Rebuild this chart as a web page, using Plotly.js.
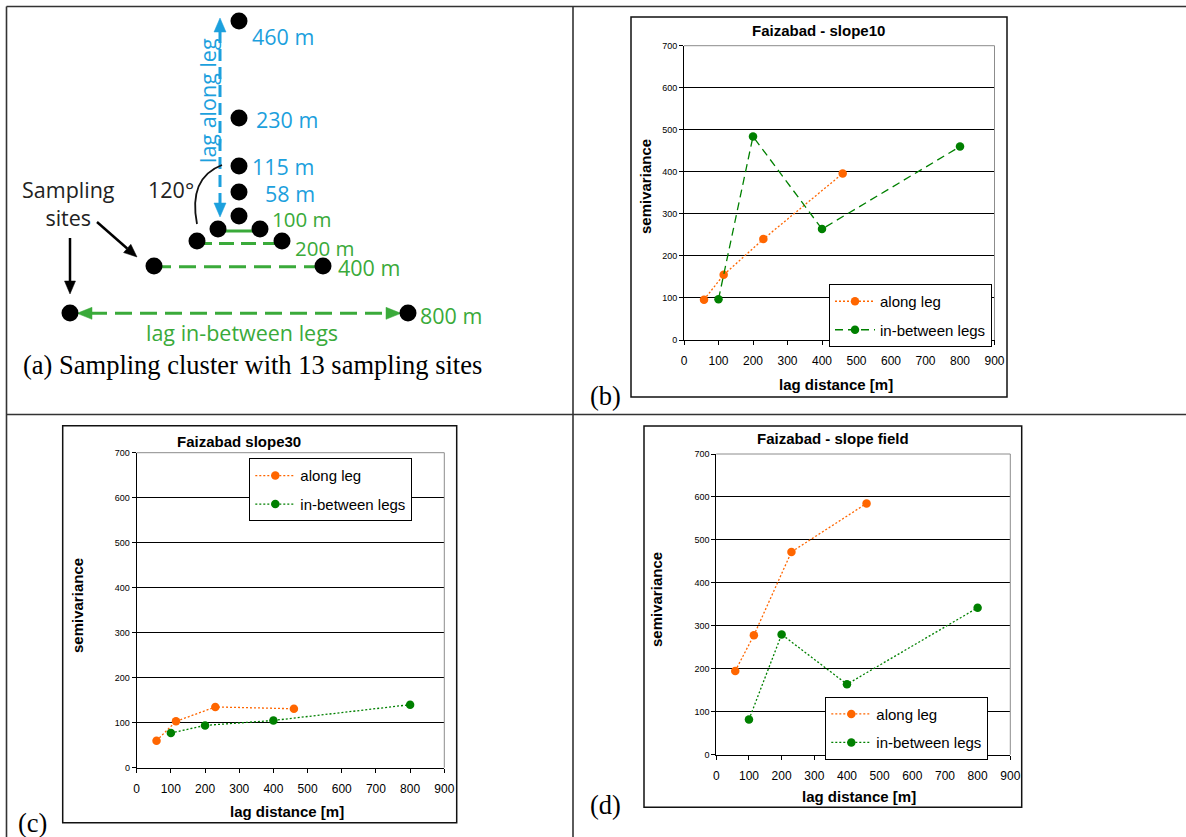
<!DOCTYPE html>
<html>
<head>
<meta charset="utf-8">
<script src="https://cdn.plot.ly/plotly-3.0.1.min.js"></script>
<style>html,body{margin:0;padding:0;background:#fff;}#chart{width:1186px;height:837px;}</style>
</head>
<body>
<div id="chart"></div>
<script>
// ---------- data ----------
const alongLag = [58, 115, 230, 460];
const betweenLag = [100, 200, 400, 800];

const slope10Along = [96, 155, 240, 396];
const slope10Between = [97, 484, 264, 460];

const slope30Along = [60, 103, 135, 131];
const slope30Between = [77, 94, 105, 140];

const fieldAlong = [195, 278, 472, 585];
const fieldBetween = [82, 280, 164, 342];

const seriesNames = ["along leg", "in-between legs"];
const chartTitles = ["Faizabad - slope10", "Faizabad slope30", "Faizabad - slope field"];
const xTitle = "lag distance [m]";
const yTitle = "semivariance";
const panelLabels = ["(a) Sampling cluster with 13 sampling sites", "(b)", "(c)", "(d)"];

// schematic of the sampling cluster (diagram units)
const siteX = [239, 239, 239, 239, 239, 218, 260, 197, 282, 154, 323, 70, 408];
const siteY = [21, 118, 166, 192, 216, 229, 229, 241, 241, 266, 266, 313, 313];
const alongLabels = ["460 m", "230 m", "115 m", "58 m"];
const betweenLabels = ["100 m", "200 m", "400 m", "800 m"];

// ---------- helpers ----------
const W = 1186, H = 837;
const px = x => x / W;
const py = y => 1 - y / H;

const ORANGE = "#FF6600", GREEN = "#008000";
const BLUE_D = "#1CA0DD", GREEN_D = "#3AAA3A";
const SANS = "Liberation Sans, Arial, sans-serif";
const SERIF = "Liberation Serif, Times New Roman, serif";
const DIAG = "Open Sans, sans-serif";

function xAxis(dom, anchor) {
  return {domain: dom, anchor: anchor, range: [0, 900], tick0: 0, dtick: 100, ticks: "outside", ticklen: 4,
    tickcolor: "#000", showline: true, linecolor: "#000", linewidth: 1, showgrid: false, zeroline: false,
    tickfont: {family: SANS, size: 12, color: "#000"}, ticklabelstandoff: 6, fixedrange: true};
}
function yAxis(dom, anchor) {
  return {domain: dom, anchor: anchor, range: [0, 700], tick0: 0, dtick: 100, ticks: "outside", ticklen: 4,
    tickcolor: "#000", showline: true, linecolor: "#000", linewidth: 1, showgrid: true, gridcolor: "#000",
    gridwidth: 1, zeroline: false, tickfont: {family: SANS, size: 9, color: "#000"}, fixedrange: true};
}
function legendBox(x, y, extra) {
  return Object.assign({x: px(x), y: py(y), xanchor: "left", yanchor: "top", bgcolor: "#fff", bordercolor: "#000",
    borderwidth: 1, font: {family: SANS, size: 15, color: "#000"}, itemwidth: 40, tracegroupgap: 6,
    traceorder: "grouped"}, extra || {});
}
function series(x, y, name, color, dash, xa, ya, lg) {
  return {type: "scatter", mode: "lines+markers", x: x, y: y, name: name, xaxis: xa, yaxis: ya,
    legend: lg, legendgroup: lg + name, line: {color: color, width: 1.3, dash: dash},
    marker: {color: color, size: 8.5}, hoverinfo: "skip"};
}

const traces = [
  series(alongLag, slope10Along, seriesNames[0], ORANGE, "2px,2px", "x", "y", "legend"),
  series(betweenLag, slope10Between, seriesNames[1], GREEN, "8px,5px", "x", "y", "legend"),
  series(alongLag, slope30Along, seriesNames[0], ORANGE, "2px,2px", "x2", "y2", "legend2"),
  series(betweenLag, slope30Between, seriesNames[1], GREEN, "2px,2px", "x2", "y2", "legend2"),
  series(alongLag, fieldAlong, seriesNames[0], ORANGE, "2px,2px", "x3", "y3", "legend3"),
  series(betweenLag, fieldBetween, seriesNames[1], GREEN, "2px,2px", "x3", "y3", "legend3"),
  {type: "scatter", mode: "markers", x: siteX, y: siteY, xaxis: "x4", yaxis: "y4", showlegend: false,
    marker: {color: "#000", size: 17}, hoverinfo: "skip"}
];

const shapes = [];
function pline(x0, y0, x1, y1, w, c) {
  shapes.push({type: "line", xref: "paper", yref: "paper", x0: px(x0), y0: py(y0), x1: px(x1), y1: py(y1),
    line: {color: c, width: w}});
}
function prect(x0, y0, x1, y1) {
  shapes.push({type: "rect", xref: "paper", yref: "paper", x0: px(x0), y0: py(y0), x1: px(x1), y1: py(y1),
    line: {color: "#111", width: 1.5}, fillcolor: "rgba(0,0,0,0)"});
}
// table grid
pline(6.5, 6.5, 1186, 6.5, 1.6, "#333");
pline(6.5, 414.5, 1186, 414.5, 1.6, "#333");
pline(6.5, 6.5, 6.5, 837, 1.6, "#333");
pline(573, 6.5, 573, 837, 1.6, "#333");
// chart frames
prect(631, 17, 1007, 397);
prect(62.7, 425.7, 456.7, 822.7);
prect(644, 426, 1021.7, 807.3);
// plot area top/right border (grey)
[["x", "y"], ["x2", "y2"], ["x3", "y3"]].forEach(([xa, ya]) => {
  shapes.push({type: "line", xref: xa + " domain", yref: ya + " domain", x0: 0, x1: 1, y0: 1, y1: 1,
    line: {color: "#8c8c8c", width: 1}});
  shapes.push({type: "line", xref: xa + " domain", yref: ya + " domain", x0: 1, x1: 1, y0: 0, y1: 1,
    line: {color: "#8c8c8c", width: 1}});
});

// diagram drawing (x4/y4 units)
function dline(x0, y0, x1, y1, color, width, dash) {
  shapes.push({type: "line", xref: "x4", yref: "y4", x0: x0, y0: y0, x1: x1, y1: y1, layer: "below",
    line: {color: color, width: width, dash: dash || "solid"}});
}
function dhead(tx, ty, fx, fy, len, hw, color) {
  const dx = tx - fx, dy = ty - fy, L = Math.hypot(dx, dy);
  const ux = dx / L, uy = dy / L;
  const bx = tx - ux * len, by = ty - uy * len;
  const p1 = [bx - uy * hw, by + ux * hw], p2 = [bx + uy * hw, by - ux * hw];
  shapes.push({type: "path", xref: "x4", yref: "y4", layer: "below",
    path: `M${tx},${ty} L${p1[0]},${p1[1]} L${p2[0]},${p2[1]} Z`, fillcolor: color, line: {color: color, width: 0.5}});
  return [bx, by];
}
// blue double arrow (lag along leg)
dline(220, 31, 220, 204, BLUE_D, 3, "12px,6px");
dhead(220, 18, 220, 100, 14, 6, BLUE_D);
dhead(220, 217, 220, 100, 14, 6, BLUE_D);
// green in-between lines
dline(218, 231, 260, 231, GREEN_D, 3, "solid");
dline(197, 243.5, 282, 243.5, GREEN_D, 3, "15px,7px");
dline(154, 266.7, 323, 266.7, GREEN_D, 3, "17px,8px");
dline(90, 313.3, 386, 313.3, GREEN_D, 3, "17px,8px");
dhead(77, 313.3, 200, 313.3, 15, 6, GREEN_D);
dhead(401, 313.3, 200, 313.3, 15, 6, GREEN_D);
// black arrows from "Sampling sites"
const b1 = dhead(137, 257, 97, 222, 13, 5.5, "#000");
dline(97, 222, b1[0], b1[1], "#000", 2.5);
const b2 = dhead(70, 294, 70, 238, 13, 5.5, "#000");
dline(70, 238, b2[0], b2[1], "#000", 2.5);
// 120 degree arc
shapes.push({type: "path", xref: "x4", yref: "y4", layer: "below", path: "M197,224 Q188,178 222,165",
  line: {color: "#111", width: 1.8}});

// ---------- annotations ----------
const ann = [];
function ptext(text, x, y, size, opts) {
  ann.push(Object.assign({text: text, xref: "paper", yref: "paper", x: px(x), y: py(y), showarrow: false,
    xanchor: "center", yanchor: "middle", font: {family: SANS, size: size, color: "#000"}}, opts || {}));
}
// chart titles and axis titles
ptext("<b>" + chartTitles[0] + "</b>", 818, 31, 15);
ptext("<b>" + chartTitles[1] + "</b>", 239, 441, 15);
ptext("<b>" + chartTitles[2] + "</b>", 833, 438.5, 15);
ptext("<b>" + xTitle + "</b>", 836, 384.5, 15);
ptext("<b>" + xTitle + "</b>", 287, 811, 15);
ptext("<b>" + xTitle + "</b>", 859, 796.5, 15);
ptext("<b>" + yTitle + "</b>", 645, 187, 15, {textangle: -90});
ptext("<b>" + yTitle + "</b>", 77, 606, 15, {textangle: -90});
ptext("<b>" + yTitle + "</b>", 656, 600, 15, {textangle: -90});
// panel labels
const capFont = {family: SERIF, size: 26.5, color: "#000"};
ptext(panelLabels[0], 21, 365, 26.5, {xanchor: "left", font: capFont});
ptext(panelLabels[1], 588, 396, 26.5, {xanchor: "left", font: capFont});
ptext(panelLabels[2], 16, 823, 26.5, {xanchor: "left", font: capFont});
ptext(panelLabels[3], 588, 805, 26.5, {xanchor: "left", font: capFont});

function dtext(text, x, y, color, opts) {
  ann.push(Object.assign({text: text, xref: "x4", yref: "y4", x: x, y: y, showarrow: false, borderpad: 0,
    xanchor: "left", yanchor: "middle", font: {family: DIAG, size: 21.5, color: color}}, opts || {}));
}
const alongLabelPos = [[251, 36], [255, 119], [251, 166], [264, 193]];
const betweenLabelPos = [[271, 219], [294, 248], [337, 267], [419, 315]];
alongLabels.forEach((t, i) => dtext(t, alongLabelPos[i][0], alongLabelPos[i][1], BLUE_D));
betweenLabels.forEach((t, i) => dtext(t, betweenLabelPos[i][0], betweenLabelPos[i][1], GREEN_D,
  i < 2 ? {font: {family: DIAG, size: 20.5, color: GREEN_D}} : {}));
dtext("lag along leg", 207, 101, BLUE_D, {xanchor: "center", textangle: -90});
dtext("lag in-between legs", 242, 332, GREEN_D, {xanchor: "center"});
dtext("Sampling<br>sites", 68, 203, "#222", {xanchor: "center"});
dtext("120°", 147, 189, "#222");

const layout = {
  width: W, height: H, margin: {l: 0, r: 0, t: 0, b: 0, pad: 0},
  paper_bgcolor: "#fff", plot_bgcolor: "#fff", showlegend: true,
  xaxis: xAxis([px(684), px(994.5)], "y"), yaxis: yAxis([py(340), py(45.7)], "x"),
  xaxis2: xAxis([px(136.7), px(444.3)], "y2"), yaxis2: yAxis([py(767.7), py(452.7)], "x2"),
  xaxis3: xAxis([px(716.3), px(1010.3)], "y3"), yaxis3: yAxis([py(754.7), py(454)], "x3"),
  xaxis4: {domain: [0, px(573)], anchor: "y4", range: [0, 573], visible: false, fixedrange: true},
  yaxis4: {domain: [py(414), 1], anchor: "x4", range: [414, 0], visible: false, fixedrange: true},
  legend: legendBox(829, 284),
  legend2: legendBox(249.3, 458.3, {entrywidth: 172, entrywidthmode: "pixels"}),
  legend3: legendBox(825.3, 696.7),
  shapes: shapes, annotations: ann
};

Plotly.newPlot("chart", traces, layout, {displayModeBar: false, staticPlot: true});
</script>
</body>
</html>
